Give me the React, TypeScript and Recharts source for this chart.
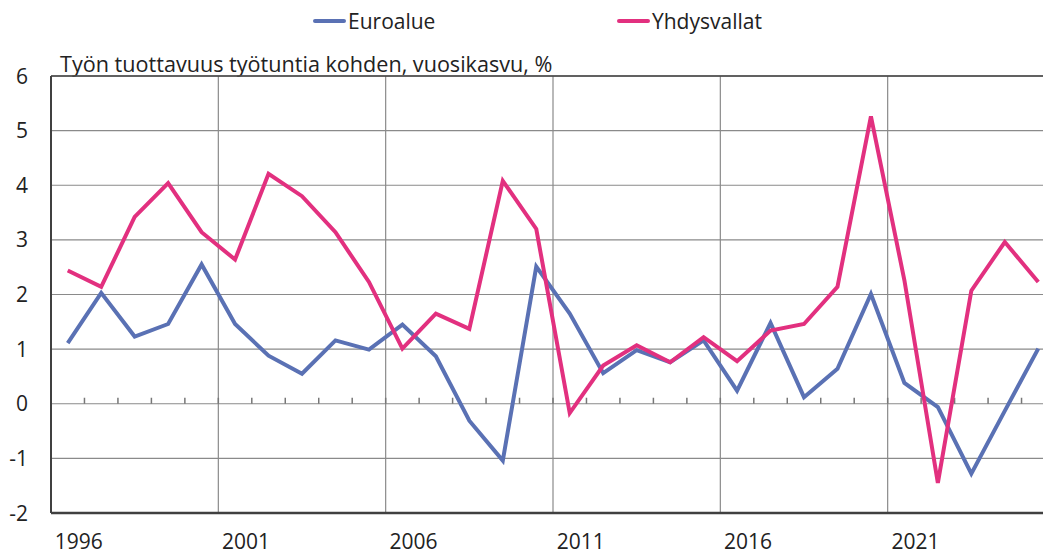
import React from 'react';
import { LineChart, Line, XAxis, YAxis, CartesianGrid, ReferenceLine } from 'recharts';

const years = [
  1996, 1997, 1998, 1999, 2000, 2001, 2002, 2003, 2004, 2005,
  2006, 2007, 2008, 2009, 2010, 2011, 2012, 2013, 2014, 2015,
  2016, 2017, 2018, 2019, 2020, 2021, 2022, 2023, 2024, 2025,
];

// Euroalue
const euroArea = [
  1.11, 2.03, 1.23, 1.46, 2.55, 1.46, 0.88, 0.55, 1.16, 0.99,
  1.45, 0.87, -0.31, -1.04, 2.51, 1.65, 0.56, 0.98, 0.76, 1.16,
  0.24, 1.48, 0.12, 0.64, 2.01, 0.38, -0.06, -1.28, -0.13, 1.01,
];

// Yhdysvallat
const usa = [
  2.44, 2.14, 3.42, 4.04, 3.14, 2.64, 4.21, 3.8, 3.14, 2.23,
  1.01, 1.65, 1.37, 4.08, 3.2, -0.17, 0.7, 1.07, 0.76, 1.22,
  0.78, 1.34, 1.46, 2.14, 5.26, 2.26, -1.45, 2.07, 2.96, 2.23,
];

const labelYears = [1996, 2001, 2006, 2011, 2016, 2021];
const yTicks = [-2, -1, 0, 1, 2, 3, 4, 5, 6];

const data = years.map((year, i) => ({ year, euro: euroArea[i], usa: usa[i] }));

// boundaries between years: small ticks on the zero line, every fifth one a gridline
const boundaries = years.slice(0, -1).map((y) => y + 0.5);
const gridBoundaries = boundaries.filter((b) => (b - 1995.5) % 5 === 0);

const BLUE = '#5a71b4';
const PINK = '#e2307f';
const FONT = '"Open Sans", sans-serif';

const XTick = ({ x, y, payload }: any) => (
  <text x={x + 11} y={y + 36} textAnchor="middle" fontFamily={FONT} fontSize={21} fill="#222">
    {payload.value}
  </text>
);

const YTick = ({ y, payload }: any) => (
  <text x={28} y={y + 7.5} textAnchor="end" fontFamily={FONT} fontSize={21} fill="#222">
    {payload.value}
  </text>
);

const legendItems = [
  { name: 'Euroalue', color: BLUE, left: 313 },
  { name: 'Yhdysvallat', color: PINK, left: 617 },
];

export default function App() {
  return (
    <div style={{ position: 'fixed', left: 0, top: 0, width: 1043, height: 557, overflow: 'hidden', background: '#fff' }}>
      {legendItems.map((it) => (
        <div
          key={it.name}
          style={{
            position: 'absolute', left: it.left, top: 7, display: 'flex', alignItems: 'center',
            fontFamily: FONT, fontSize: 21, color: '#222', lineHeight: '28px',
          }}
        >
          <span style={{ display: 'inline-block', width: 33, height: 4, background: it.color, borderRadius: 2 }} />
          <span style={{ marginLeft: 2 }}>{it.name}</span>
        </div>
      ))}
      <div
        style={{
          position: 'absolute', left: 60, top: 50, fontFamily: FONT, fontSize: 21.6,
          color: '#222', whiteSpace: 'nowrap', lineHeight: '28px',
        }}
      >
        Työn tuottavuus työtuntia kohden, vuosikasvu, %
      </div>
      <LineChart width={1070} height={557} data={data} margin={{ top: 76, right: 15, bottom: 0, left: 0 }}>
        <CartesianGrid vertical={false} stroke="#8a8a8a" strokeWidth={1.2} />
        {gridBoundaries.map((b) => (
          <ReferenceLine key={'g' + b} x={b} stroke="#8a8a8a" strokeWidth={1.2} />
        ))}
        {boundaries.map((b) => (
          <ReferenceLine
            key={'t' + b}
            segment={[{ x: b, y: 0 }, { x: b, y: 0.11 }]}
            stroke="#777"
            strokeWidth={1.5}
          />
        ))}
        <ReferenceLine y={6} stroke="#404040" strokeWidth={1.5} />
        <XAxis
          dataKey="year"
          type="number"
          domain={[1995.5, 2025.5]}
          ticks={labelYears}
          interval={0}
          tick={<XTick />}
          tickLine={false}
          tickSize={0}
          tickMargin={0}
          axisLine={{ stroke: '#404040', strokeWidth: 2.5 }}
          height={44}
        />
        <YAxis
          domain={[-2, 6]}
          ticks={yTicks}
          interval={0}
          tick={<YTick />}
          tickLine={false}
          axisLine={{ stroke: '#404040', strokeWidth: 2 }}
          width={51}
        />
        <Line type="linear" dataKey="euro" name="Euroalue" stroke={BLUE} strokeWidth={4} dot={false} isAnimationActive={false} />
        <Line type="linear" dataKey="usa" name="Yhdysvallat" stroke={PINK} strokeWidth={4} dot={false} isAnimationActive={false} />
      </LineChart>
    </div>
  );
}
